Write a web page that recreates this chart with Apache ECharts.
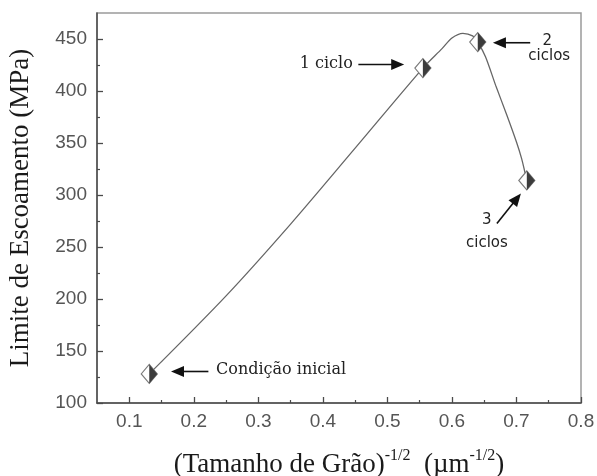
<!DOCTYPE html>
<html>
<head>
<meta charset="utf-8">
<script src="https://cdn.jsdelivr.net/npm/echarts@6/dist/echarts.min.js"></script>
<style>
  html, body { margin: 0; padding: 0; background: #fff; }
  #chart { width: 597px; height: 476px; }
</style>
</head>
<body>
<div id="chart"></div>
<script>
// Yield strength versus inverse square root of grain size
const grainX = [0.131, 0.555, 0.640, 0.716];      // (grain size)^-1/2, µm^-1/2
const yieldMPa = [128, 422, 447, 314];             // yield strength, MPa
const pointNames = ['Condição inicial', '1 ciclo', '2 ciclos', '3 ciclos'];

// trend curve drawn through the measurements
const curveX = [0.131, 0.25, 0.35, 0.45, 0.555, 0.585, 0.600, 0.617, 0.632, 0.640, 0.652, 0.668, 0.685, 0.700, 0.708, 0.713, 0.716];
const curveY = [128, 203, 272, 345, 422, 441, 451, 455.5, 453, 447, 433, 405, 377, 351, 335, 322, 314];

// axis ticks
const xTicks = [0.1, 0.2, 0.3, 0.4, 0.5, 0.6, 0.7, 0.8];
const xMinorTicks = [0.15, 0.25, 0.35, 0.45, 0.55, 0.65, 0.75];
const yTicks = [100, 150, 200, 250, 300, 350, 400, 450];
const yMinorTicks = [125, 175, 225, 275, 325, 375, 425];

// annotation arrows (tail -> tip) and labels, in data units
const arrows = [
  { from: [0.2226, 130.3], to: [0.1647, 130.3] },
  { from: [0.455, 425.5], to: [0.526, 425.5] },
  { from: [0.7213, 446.4], to: [0.6635, 446.4] },
  { from: [0.6697, 272.7], to: [0.7069, 301.5] }
];
const notes = [
  { text: 'Condição inicial', at: [0.2345, 131.5], align: 'left', font: 'serif' },
  { text: '1 ciclo', at: [0.4464, 426], align: 'right', font: 'serif' },
  { text: '2', at: [0.7477, 447.6], align: 'center', font: 'sans' },
  { text: 'ciclos', at: [0.7508, 433.2], align: 'center', font: 'sans' },
  { text: '3', at: [0.6539, 275.9], align: 'center', font: 'sans' },
  { text: 'ciclos', at: [0.6542, 253.8], align: 'center', font: 'sans' }
];

const chart = echarts.init(document.getElementById('chart'), null, { renderer: 'canvas' });

const tickFont = { fontFamily: 'Liberation Sans, Arial, sans-serif', fontSize: 19, color: '#555' };
const axisColor = '#4a4a4a';

const option = {
  animation: false,
  backgroundColor: '#fff',
  grid: {
    left: 97, right: 16, top: 13, bottom: 73,
    outerBoundsMode: 'none', containLabel: false,
    show: true, borderColor: '#9a9a9a', borderWidth: 1.5, backgroundColor: 'transparent'
  },
  xAxis: [
    {
      type: 'value', min: 0.05, max: 0.8,
      axisLine: { show: true, lineStyle: { color: axisColor, width: 1.5 } },
      axisTick: { show: true, inside: true, length: 6, customValues: xTicks, lineStyle: { color: axisColor, width: 1.3 } },
      axisLabel: { customValues: xTicks, margin: 9, formatter: v => v.toFixed(1), ...tickFont },
      splitLine: { show: false },
      name: '{a|(Tamanho de Grão)}{s|-1/2}{a|  (µm}{s|-1/2}{a|)}',
      nameLocation: 'middle', nameGap: 45,
      nameTextStyle: {
        rich: {
          a: { fontFamily: 'Liberation Serif, Times New Roman, serif', fontSize: 27, color: '#1a1a1a', lineHeight: 30, verticalAlign: 'bottom' },
          s: { fontFamily: 'Liberation Serif, Times New Roman, serif', fontSize: 16, color: '#1a1a1a', lineHeight: 30, verticalAlign: 'top' }
        }
      }
    },
    {
      type: 'value', min: 0.05, max: 0.8, position: 'bottom',
      axisLine: { show: false },
      axisTick: { show: true, inside: true, length: 3, customValues: xMinorTicks, lineStyle: { color: axisColor, width: 1.2 } },
      axisLabel: { show: false },
      splitLine: { show: false }
    }
  ],
  yAxis: [
    {
      type: 'value', min: 100, max: 475,
      axisLine: { show: true, lineStyle: { color: axisColor, width: 1.5 } },
      axisTick: { show: true, inside: true, length: 6, customValues: yTicks, lineStyle: { color: axisColor, width: 1.3 } },
      axisLabel: { customValues: yTicks, margin: 10, ...tickFont },
      splitLine: { show: false },
      name: 'Limite de Escoamento (MPa)',
      nameLocation: 'middle', nameGap: 63,
      nameTextStyle: { fontFamily: 'Liberation Serif, Times New Roman, serif', fontSize: 27, color: '#1a1a1a' }
    },
    {
      type: 'value', min: 100, max: 475, position: 'left',
      axisLine: { show: false },
      axisTick: { show: true, inside: true, length: 3, customValues: yMinorTicks, lineStyle: { color: axisColor, width: 1.2 } },
      axisLabel: { show: false },
      splitLine: { show: false }
    }
  ],
  series: [
    {
      name: 'curva',
      type: 'line',
      smooth: 0.3,
      showSymbol: false,
      data: curveX.map((x, i) => [x, curveY[i]]),
      lineStyle: { color: '#666', width: 1.3 },
      z: 2
    },
    {
      name: 'medidas',
      type: 'scatter',
      symbol: 'diamond',
      symbolSize: [16, 19],
      data: grainX.map((x, i) => ({ name: pointNames[i], value: [x, yieldMPa[i]] })),
      itemStyle: { color: '#fff', borderColor: '#7a7a7a', borderWidth: 1.2, opacity: 1 },
      z: 3
    },
    {
      name: 'medidas-sombra',
      type: 'scatter',
      symbol: 'path://M0,0L10,10L0,20Z',
      symbolKeepAspect: false,
      symbolSize: [8, 19],
      symbolOffset: [4, 0],
      data: grainX.map((x, i) => [x, yieldMPa[i]]),
      itemStyle: { color: '#3c3c3c', opacity: 1 },
      z: 4
    }
  ]
};

chart.setOption(option);

// arrows and notes placed from data coordinates
function px(p) {
  return chart.convertToPixel({ xAxisIndex: 0, yAxisIndex: 0 }, p);
}
const graphics = [];
arrows.forEach(a => {
  const t = px(a.from), h = px(a.to);
  const dx = h[0] - t[0], dy = h[1] - t[1];
  const len = Math.hypot(dx, dy);
  const ux = dx / len, uy = dy / len;
  const headLen = 13, headHalf = 5.5;
  const bx = h[0] - ux * headLen, by = h[1] - uy * headLen;
  graphics.push({
    type: 'line', silent: true, z: 10,
    shape: { x1: t[0], y1: t[1], x2: bx + ux * 2, y2: by + uy * 2 },
    style: { stroke: '#111', lineWidth: 1.6 }
  });
  graphics.push({
    type: 'polygon', silent: true, z: 10,
    shape: { points: [h, [bx - uy * headHalf, by + ux * headHalf], [bx + uy * headHalf, by - ux * headHalf]] },
    style: { fill: '#111' }
  });
});
notes.forEach(n => {
  const p = px(n.at);
  const serif = n.font === 'serif';
  graphics.push({
    type: 'text', silent: true, z: 10,
    x: p[0], y: p[1],
    style: {
      text: n.text,
      fill: '#222',
      font: serif ? '16px "DejaVu Serif", serif' : '15px "DejaVu Sans", sans-serif',
      align: n.align,
      verticalAlign: 'middle'
    }
  });
});
chart.setOption({ graphic: graphics });
</script>
</body>
</html>
